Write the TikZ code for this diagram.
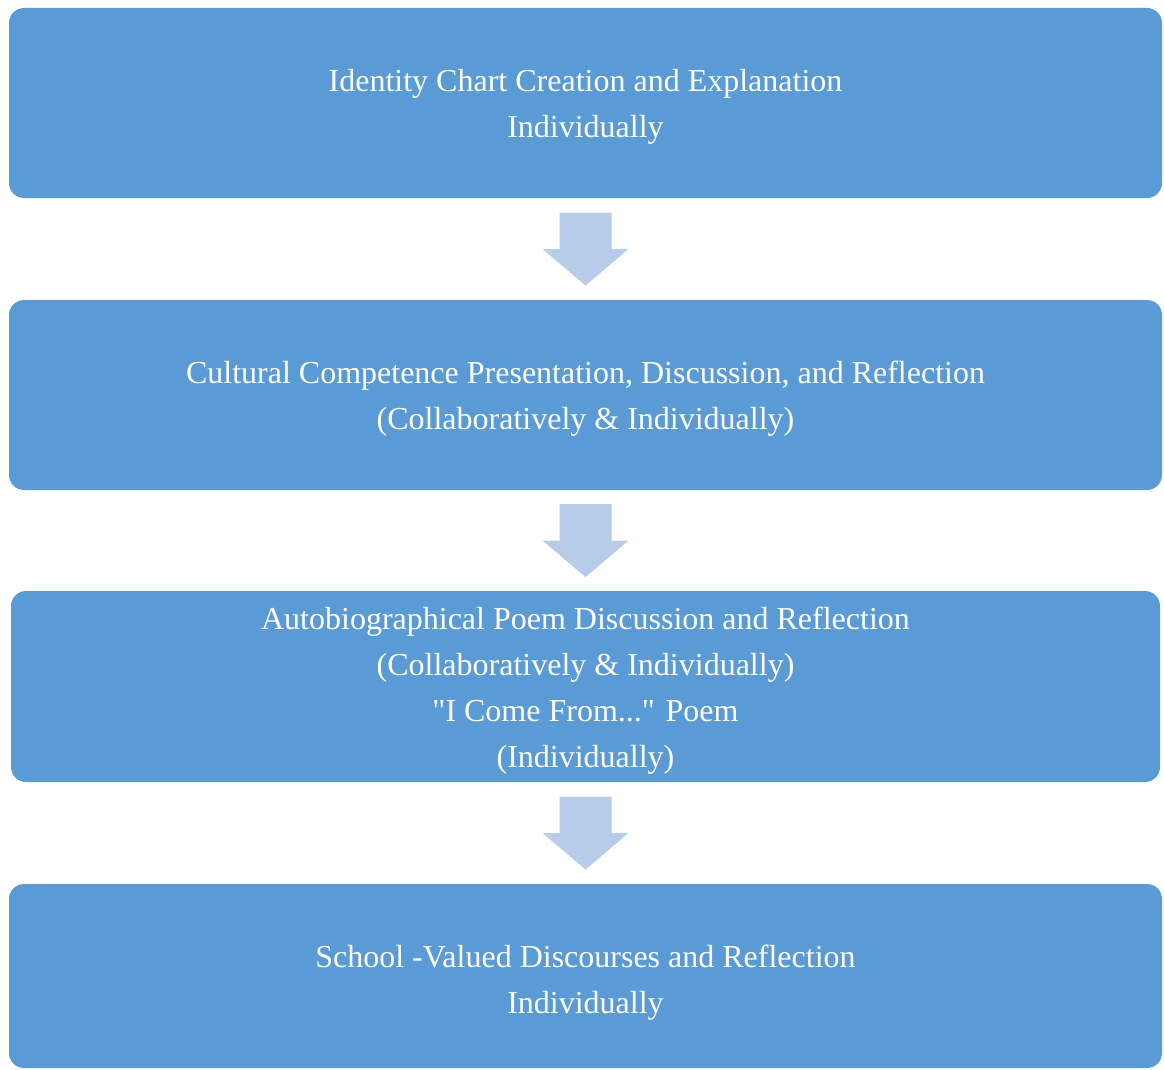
\documentclass[tikz,border=0pt]{standalone}
\usepackage{fontspec}
\setmainfont{Liberation Serif}
\usetikzlibrary{calc}

\definecolor{stageblue}{HTML}{5B9BD5}
\definecolor{arrowblue}{HTML}{B7CCE8}

% pushes the text block a little below the box centre
\newcommand{\lowstrut}[1][30pt]{\rule{0pt}{#1}}

\begin{document}
\begin{tikzpicture}[x=1pt,y=-1pt,
    stage/.style ={rectangle, rounded corners=15pt, fill=stageblue, text=white,
                   align=center, inner sep=0pt, minimum width=1153pt, minimum height=190pt,
                   font=\fontsize{32}{46}\selectfont}]
   \useasboundingbox (0,0) rectangle (1164,1070);

   \node[stage] (A) at (585.5,103)  {\lowstrut Identity Chart Creation and Explanation\\Individually};
   \node[stage] (B) at (585.5,395)  {\lowstrut Cultural Competence Presentation, Discussion, and Reflection\\(Collaboratively \& Individually)};
   \node[stage, minimum width=1149pt, minimum height=191pt] (C) at (585.5,686.5)
      {\lowstrut Autobiographical Poem Discussion and Reflection\\(Collaboratively \& Individually)\\\textquotedbl I Come From...\textquotedbl{} Poem\\(Individually)};
   \node[stage, minimum height=184pt] (D) at (585.5,976)  {\lowstrut[36pt]School -Valued Discourses and Reflection\\Individually};

   % block arrows between the stages
   \foreach \a/\b in {A/B, B/C, C/D}{
     \path (\a.south) -- (\b.north) coordinate[midway] (m);
     \fill[arrowblue] ($(m)+(-26,-36.5)$) -- ($(m)+(26,-36.5)$) -- ($(m)+(26,0)$)
        -- ($(m)+(43,0)$) -- ($(m)+(0,36.5)$) -- ($(m)+(-43,0)$) -- ($(m)+(-26,0)$) -- cycle;
   }
 \end{tikzpicture}
\end{document}
